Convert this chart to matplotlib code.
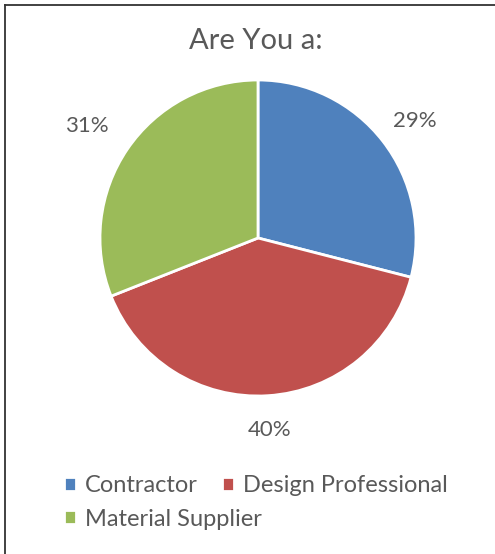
import numpy as np
import matplotlib.pyplot as plt
from matplotlib.lines import Line2D

# survey answers, clockwise from 12 o'clock
categories = ["Contractor", "Design Professional", "Material Supplier"]
shares = [29, 40, 31]
colors = ["#4F81BD", "#C0504D", "#9BBB59"]
label_dist = [1.26, 1.19, 1.31]

W, H = 495, 554
plt.rcParams['font.family'] = ['Lato', 'DejaVu Sans']
text_color = "#595959"

fig = plt.figure(figsize=(W / 100, H / 100), dpi=100)

# frame: only the top and left edges show in the picture
fig.lines.append(Line2D([4.5 / W, 1], [1 - 4.5 / H] * 2, transform=fig.transFigure,
                        color="#333333", linewidth=1.3))
fig.lines.append(Line2D([4.5 / W] * 2, [0, 1 - 4.5 / H], transform=fig.transFigure,
                        color="#333333", linewidth=1.3))

fig.text(256 / W, 1 - 41 / H, "Are You a:", ha="center", va="center",
         fontsize=21, color=text_color)

# pie centred at (258, 238) px with radius 158 px
r = 158
ax = fig.add_axes([(258 - r) / W, (H - 238 - r) / H, 2 * r / W, 2 * r / H])
wedges, _ = ax.pie(
    shares, colors=colors, startangle=90, counterclock=False,
    wedgeprops=dict(edgecolor="white", linewidth=2),
)
for w, s, d in zip(wedges, shares, label_dist):
    mid = np.deg2rad((w.theta1 + w.theta2) / 2)
    ax.text(d * np.cos(mid), d * np.sin(mid) - 0.03, f"{s}%", ha="center",
            va="center", fontsize=16, color=text_color)
ax.set_xlim(-1, 1)
ax.set_ylim(-1, 1)
ax.set_aspect("equal")
ax.axis("off")

# legend: first row Contractor / Design Professional, second row Material Supplier
leg_kw = dict(loc="center left", frameon=False, fontsize=17, labelcolor=text_color,
              handlelength=0.5, handleheight=0.5, handletextpad=0.4,
              columnspacing=1.0, borderpad=0, borderaxespad=0)
fig.legend(wedges[:2], categories[:2], ncol=2,
           bbox_to_anchor=(64 / W, 1 - 486 / H), **leg_kw)
fig.legend(wedges[2:], categories[2:],
           bbox_to_anchor=(64 / W, 1 - 519 / H), **leg_kw)

fig.savefig("out.png", dpi=100)
